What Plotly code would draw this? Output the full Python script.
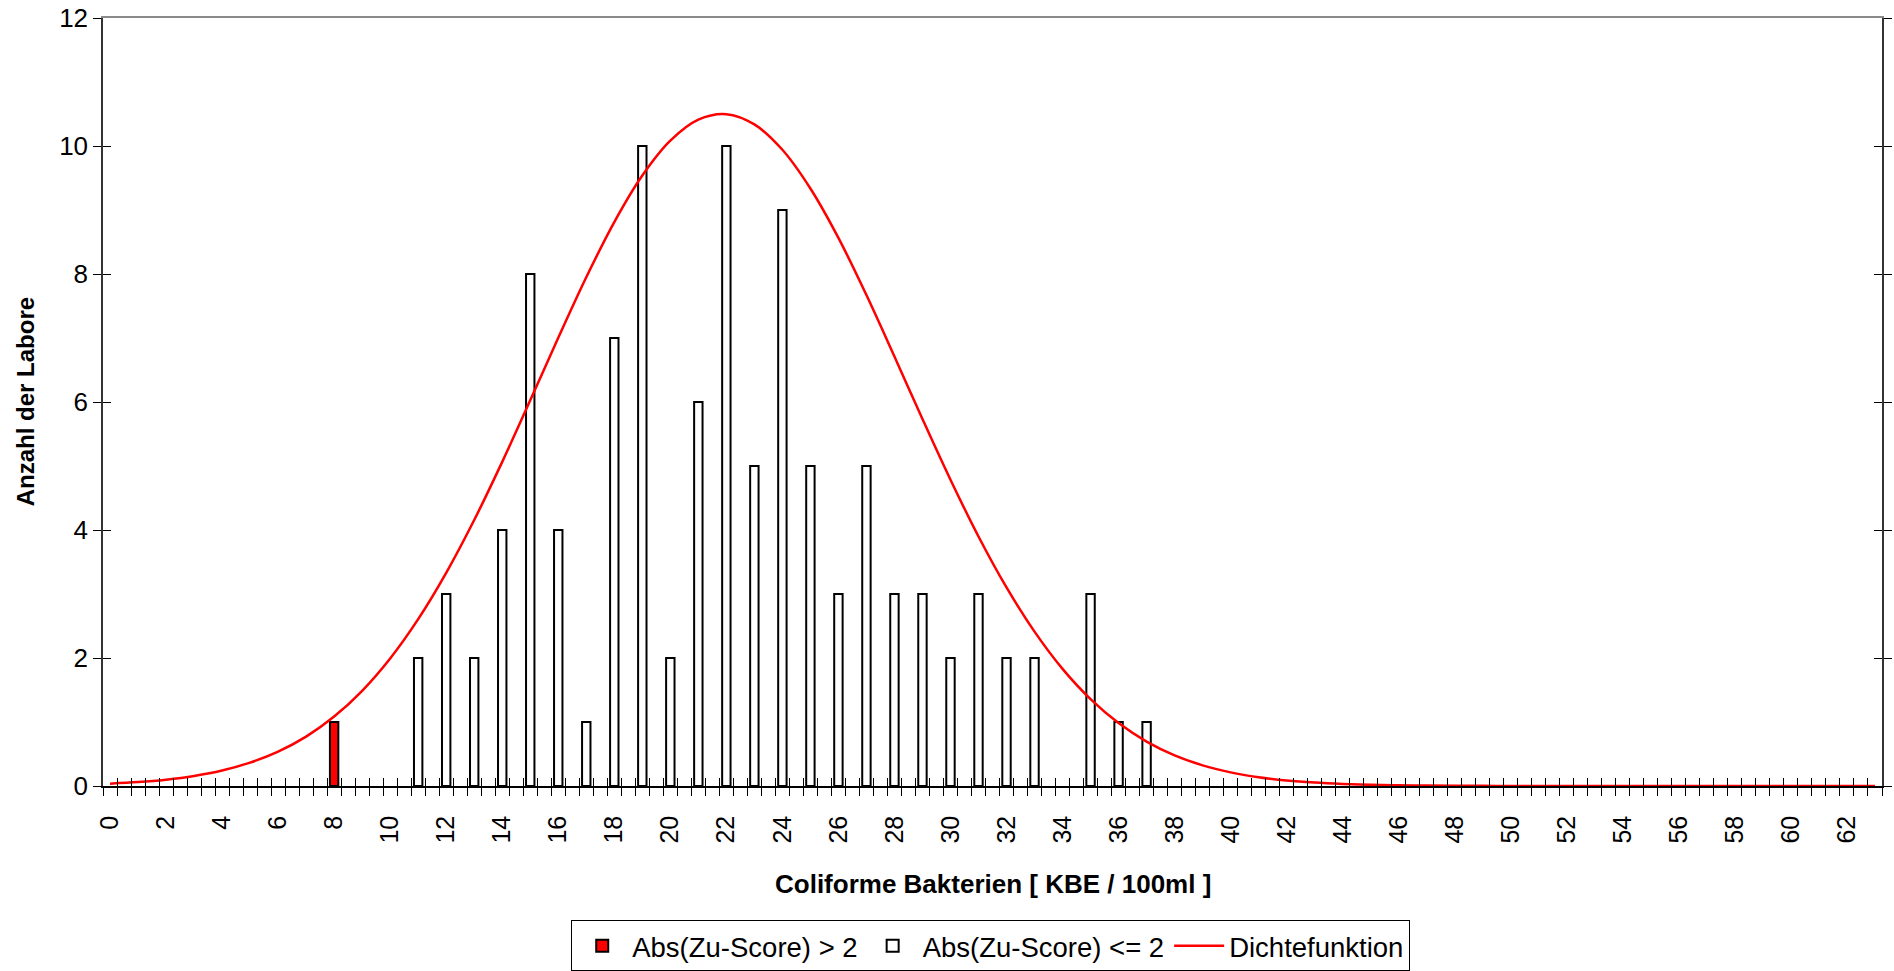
import plotly.graph_objects as go

# --- data ---
red_x = [8]
red_y = [1]

white_x = [11, 12, 13, 14, 15, 16, 17, 18, 19, 20, 21, 22, 23, 24, 25, 26, 27, 28, 29, 30, 31, 32, 33, 35, 36, 37]
white_y = [2, 3, 2, 4, 8, 4, 1, 7, 10, 2, 6, 10, 5, 9, 5, 3, 5, 3, 3, 2, 3, 2, 2, 3, 1, 1]

curve_x = list(range(0, 64))
curve_y = [0.037, 0.061, 0.099, 0.157, 0.242, 0.365, 0.537, 0.772, 1.085, 1.488,
           1.993, 2.607, 3.331, 4.156, 5.064, 6.026, 7.003, 7.949, 8.811, 9.538,
           10.083, 10.411, 10.497, 10.337, 9.941, 9.336, 8.564, 7.671, 6.711, 5.734,
           4.785, 3.899, 3.103, 2.412, 1.830, 1.357, 0.983, 0.694, 0.479, 0.323,
           0.213, 0.137, 0.086, 0.053, 0.032, 0.018, 0.011, 0.006, 0.003, 0.002,
           0.001, 0, 0, 0, 0, 0, 0, 0, 0, 0, 0, 0, 0, 0]

label_step = 2
y_ticks = [0, 2, 4, 6, 8, 10, 12]

names = ["Abs(Zu-Score) > 2", "Abs(Zu-Score) <= 2", "Dichtefunktion"]
x_title = "Coliforme Bakterien [ KBE / 100ml ]"
y_title = "Anzahl der Labore"

FONT = "Liberation Sans, Arial, sans-serif"
half = 0.25                      # half of a category slot (slots are 0.5 wide)
XR = [curve_x[0] - half, curve_x[-1] + half]
YR = [0, 12]

# slot boundaries (tick marks) and labels placed on the slot to the right of a boundary
n_slots = int(round((XR[1] - XR[0]) / (2 * half)))
bounds = [XR[0] + 2 * half * k for k in range(n_slots + 1)]
btext = []
for b in bounds:
    c = b + half
    if abs(c - round(c)) < 1e-9 and int(round(c)) % label_step == 0 and c < curve_x[-1]:
        btext.append(str(int(round(c))))
    else:
        btext.append("")

fig = go.Figure()
fig.add_trace(go.Bar(x=red_x, y=red_y, name=names[0], width=0.3,
                     xaxis="x", yaxis="y",
                     marker=dict(color="#FF0000", line=dict(color="black", width=2))))
fig.add_trace(go.Bar(x=white_x, y=white_y, name=names[1], width=0.3,
                     xaxis="x2", yaxis="y",
                     marker=dict(color="white", line=dict(color="black", width=2))))
fig.add_trace(go.Scatter(x=curve_x, y=curve_y, name=names[2], mode="lines",
                         xaxis="x3", yaxis="y2",
                         line=dict(color="#FF0000", width=2.5, shape="spline")))

common = dict(showgrid=False, zeroline=False, automargin=False)

fig.update_layout(
    width=1894, height=971,
    margin=dict(l=103, r=12, t=18, b=185, autoexpand=False),
    paper_bgcolor="white", plot_bgcolor="white",
    barmode="overlay",
    font=dict(family=FONT, size=26, color="black"),
    showlegend=True,
    legend=dict(orientation="h", x=0.499, xanchor="center", y=-0.2083, yanchor="middle",
                bordercolor="black", borderwidth=1, itemwidth=50,
                font=dict(family=FONT, size=27.5), traceorder="normal"),
    xaxis=dict(range=XR, tickmode="array", tickvals=bounds, ticktext=btext,
               tickangle=-90, ticklabelshift=7, ticklabelstandoff=10,
               ticks="outside", ticklen=8, tickcolor="black", tickwidth=1,
               showline=True, linecolor="black", linewidth=1.5,
               tickfont=dict(size=25), **common),
    xaxis2=dict(range=XR, overlaying="x", anchor="y", side="top",
                ticks="", showticklabels=False,
                showline=True, linecolor="#8a8a8a", linewidth=1.5, **common),
    xaxis3=dict(range=XR, overlaying="x", anchor="y2", side="bottom",
                tickmode="array", tickvals=bounds,
                ticks="inside", ticklen=8, tickcolor="black", tickwidth=1,
                showticklabels=False, showline=False, **common),
    yaxis=dict(range=YR, tickmode="array", tickvals=y_ticks,
               ticks="outside", ticklen=8, tickcolor="black", tickwidth=1,
               showline=True, linecolor="#333333", linewidth=1.5, mirror="ticks",
               tickfont=dict(size=26), **common),
    yaxis2=dict(range=YR, overlaying="y", anchor="x3", side="left",
                tickmode="array", tickvals=y_ticks,
                ticks="inside", ticklen=8, tickcolor="black", tickwidth=1,
                mirror="ticks", showticklabels=False, showline=False, **common),
    annotations=[
        dict(text="<b>" + x_title + "</b>", xref="paper", yref="paper",
             x=0.5, y=-0.1276, xanchor="center", yanchor="middle",
             showarrow=False, font=dict(size=26, family=FONT)),
        dict(text="<b>" + y_title + "</b>", xref="paper", yref="paper",
             x=-0.0437, y=0.5, xanchor="center", yanchor="middle", textangle=-90,
             showarrow=False, font=dict(size=24, family=FONT)),
    ],
)

fig.write_html("out.html", config={"displayModeBar": False},
               post_script="document.body.style.margin='0';document.body.style.overflow='hidden';")
